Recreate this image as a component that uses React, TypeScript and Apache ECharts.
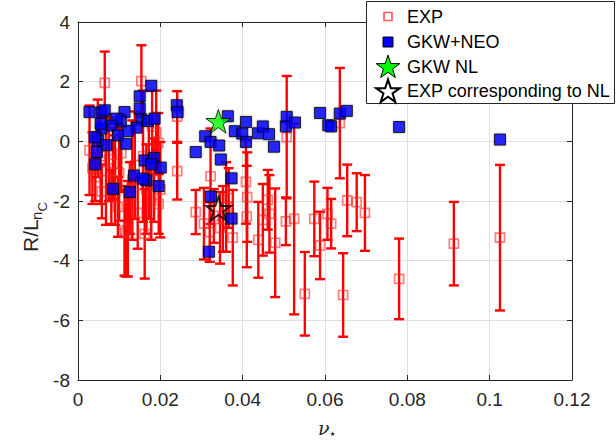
import React, { useEffect, useRef } from "react";
import * as echarts from "echarts";

// ---- data ----
const expNu = [
  0.0028, 0.0035, 0.0042, 0.0048, 0.0055, 0.0058, 0.0065, 0.0068, 0.0075, 0.0081,
  0.0085, 0.009, 0.0097, 0.01, 0.0105, 0.0113, 0.0116, 0.0121, 0.0126, 0.0132,
  0.0138, 0.0145, 0.0154, 0.0158, 0.0162, 0.0166, 0.0172, 0.0178, 0.0185, 0.018,
  0.019, 0.0195, 0.0196, 0.02, 0.0241, 0.0241, 0.0286, 0.0306, 0.0322, 0.032,
  0.033, 0.0345, 0.0352, 0.036, 0.0366, 0.0376, 0.0408, 0.0411, 0.041, 0.0438,
  0.0449, 0.0461, 0.0465, 0.0479, 0.0505, 0.0507, 0.0525, 0.0551, 0.0574, 0.0588,
  0.0606, 0.0615, 0.0636, 0.0644, 0.0654, 0.0677, 0.0697, 0.078, 0.0913, 0.1025,
];
const expR = [
  -0.3, -0.9, -1.2, 0.1, -0.5, -1.68, 1.96, -1.0, -0.6, -1.87,
  -0.75, -1.3, -2.2, -1.06, -0.4, -3.0, -3.08, -2.93, -1.9, -1.3,
  -0.8, -2.4, 2.02, -0.5, -3.1, -1.6, -1.0, -2.0, -1.3, 0.5,
  0.3, -0.05, -2.1, -1.62, 0.83, -1.0, -2.37, -2.76, -1.17, -3.04,
  -2.5, -2.9, -2.6, -2.2, -1.9, -3.23, -1.36, -1.87, -2.52, -3.3,
  -2.63, -1.96, -2.43, -3.4, -2.68, 0.14, -2.6, -5.11, -2.6, -3.49,
  -2.43, -2.76, 0.61, -5.15, -1.98, -2.04, -2.4, -4.61, -3.43, -3.23,
];
const expErr = [
  1.5, 1.2, 0.8, 1.3, 1.6, 0.9, 1.05, 1.8, 1.4, 0.9,
  1.2, 1.5, 1.0, 1.6, 1.3, 1.5, 1.45, 1.6, 1.2, 2.0,
  1.8, 1.2, 1.2, 2.2, 1.5, 1.5, 1.6, 1.3, 1.4, 1.2,
  1.4, 1.0, 1.0, 1.6, 0.85, 0.95, 0.74, 1.2, 1.6, 1.0,
  0.9, 1.2, 1.1, 1.5, 1.0, 1.6, 1.4, 1.5, 1.7, 1.27,
  1.2, 1.0, 1.3, 1.82, 0.8, 2.05, 3.2, 1.4, 1.25, 1.13,
  0.87, 0.83, 1.85, 1.4, 1.2, 0.97, 1.27, 1.35, 1.4, 2.44,
];
const gkwNu = [
  0.0028, 0.0057, 0.0065, 0.0113, 0.015, 0.0178, 0.015, 0.0154, 0.017, 0.0186,
  0.0142, 0.0121, 0.0104, 0.0093, 0.0081, 0.0057, 0.0055, 0.0097, 0.0116, 0.0049,
  0.0041, 0.0069, 0.0046, 0.0042, 0.0085, 0.0126, 0.0136, 0.0162, 0.0185, 0.0201,
  0.0166, 0.0158, 0.0196, 0.0178, 0.024, 0.0242, 0.0286, 0.0309, 0.0322, 0.0343,
  0.0347, 0.0373, 0.0323, 0.0373, 0.0318, 0.0364, 0.0381, 0.0399, 0.0408, 0.0408,
  0.0437, 0.0449, 0.0464, 0.0476, 0.0507, 0.0505, 0.0527, 0.0588, 0.0608, 0.0615,
  0.0636, 0.0653, 0.078, 0.1025,
];
const gkwR = [
  0.98, 0.97, 1.04, 0.98, 1.51, 1.86, 1.1, 0.73, 0.68, 0.76,
  0.46, 0.35, 0.67, 0.76, 0.53, 0.43, 0.59, 0.2, -0.08, 0.03,
  0.14, -0.13, -0.36, -0.77, -1.59, -1.7, -1.15, -0.64, -0.56, -0.88,
  -1.31, -1.25, -1.5, -0.77, 1.21, 0.98, -0.36, 0.17, -0.02, -0.14,
  -0.61, -1.24, -1.85, -2.59, -3.7, 0.84, 0.34, 0.26, 0.65, -0.02,
  0.27, 0.5, 0.24, -0.18, 0.82, 0.5, 0.63, 0.95, 0.54, 0.5,
  0.93, 1.02, 0.48, 0.06,
];
const nlNu = [0.0341];
const nlR = [0.67];
const expNlNu = [0.0341];
const expNlR = [-2.26];
const legendNames = ["EXP", "GKW+NEO", "GKW NL", "EXP corresponding to NL"];

const FONT = "'Liberation Sans', Arial, Helvetica, sans-serif";
const INK = "#262626";
const EXP_EDGE = "rgba(255,30,30,0.72)";

function starPts(cx: number, cy: number, R: number): number[][] {
  const r = R * 0.382;
  const pts: number[][] = [];
  for (let k = 0; k < 10; k++) {
    const a = -Math.PI / 2 + (k * Math.PI) / 5;
    const rad = k % 2 ? r : R;
    pts.push([cx + rad * Math.cos(a), cy + rad * Math.sin(a)]);
  }
  return pts;
}
const starPath =
  "path://" +
  starPts(50, 50, 50)
    .map((p, i) => (i ? "L" : "M") + p[0].toFixed(2) + " " + p[1].toFixed(2))
    .join(" ") +
  " Z";

export default function App() {
  const ref = useRef<HTMLDivElement>(null);
  useEffect(() => {
    const chart = echarts.init(ref.current!, null, { renderer: "svg" });
    const axisCommonX = {
      type: "value" as const,
      min: 0,
      max: 0.12,
      interval: 0.02,
    };
    const axisCommonY = {
      type: "value" as const,
      min: -8,
      max: 4,
      interval: 2,
    };
    const lineStyle = { color: INK, width: 1 };
    const option: any = {
      animation: false,
      backgroundColor: "#ffffff",
      grid: { left: 78, right: 44, top: 22, bottom: 62, containLabel: false },
      xAxis: [
        {
          ...axisCommonX,
          position: "bottom",
          axisLine: { show: true, onZero: false, lineStyle },
          axisTick: { show: true, inside: true, length: 5, lineStyle },
          axisLabel: { color: INK, fontSize: 19, fontFamily: FONT, margin: 10 },
          splitLine: { show: true, lineStyle: { color: "#dfdfdf", width: 1 } },
        },
        {
          ...axisCommonX,
          position: "top",
          axisLine: { show: true, onZero: false, lineStyle },
          axisTick: { show: true, inside: true, length: 5, lineStyle },
          axisLabel: { show: false },
          splitLine: { show: false },
        },
      ],
      yAxis: [
        {
          ...axisCommonY,
          position: "left",
          axisLine: { show: true, onZero: false, lineStyle },
          axisTick: { show: true, inside: true, length: 5, lineStyle },
          axisLabel: { color: INK, fontSize: 19, fontFamily: FONT, margin: 8 },
          splitLine: { show: true, lineStyle: { color: "#dfdfdf", width: 1 } },
        },
        {
          ...axisCommonY,
          position: "right",
          axisLine: { show: true, onZero: false, lineStyle },
          axisTick: { show: true, inside: true, length: 5, lineStyle },
          axisLabel: { show: false },
          splitLine: { show: false },
        },
      ],
      series: [
        {
          type: "custom",
          name: "EXP error",
          xAxisIndex: 0,
          yAxisIndex: 0,
          silent: true,
          z: 2,
          encode: { x: 0, y: 1 },
          data: expNu.map((v, i) => [v, expR[i], expErr[i]]),
          renderItem: (params: any, api: any) => {
            const x = api.value(0);
            const y = api.value(1);
            const e = api.value(2);
            const top = api.coord([x, y + e]);
            const bot = api.coord([x, y - e]);
            const hw = 5;
            const st = { stroke: "#ff0000", lineWidth: 2.4 };
            return {
              type: "group",
              children: [
                { type: "line", shape: { x1: top[0], y1: top[1], x2: bot[0], y2: bot[1] }, style: st },
                { type: "line", shape: { x1: top[0] - hw, y1: top[1], x2: top[0] + hw, y2: top[1] }, style: st },
                { type: "line", shape: { x1: bot[0] - hw, y1: bot[1], x2: bot[0] + hw, y2: bot[1] }, style: st },
              ],
            };
          },
        },
        {
          type: "scatter",
          name: legendNames[0],
          z: 3,
          symbol: "rect",
          symbolSize: 9,
          itemStyle: {
            color: "rgba(255,255,255,0)",
            borderColor: EXP_EDGE,
            borderWidth: 1.7,
          },
          data: expNu.map((v, i) => [v, expR[i]]),
        },
        {
          type: "scatter",
          name: legendNames[1],
          z: 4,
          symbol: "rect",
          symbolSize: 11,
          itemStyle: {
            color: "#0000ff",
            borderColor: "#000000",
            borderWidth: 1,
            shadowColor: "rgba(0,0,0,0.35)",
            shadowBlur: 2,
          },
          data: gkwNu.map((v, i) => [v, gkwR[i]]),
        },
        {
          type: "scatter",
          name: legendNames[2],
          z: 5,
          symbol: starPath,
          symbolKeepAspect: true,
          symbolSize: 25,
          itemStyle: { color: "#00ff00", borderColor: "#000000", borderWidth: 1 },
          data: nlNu.map((v, i) => [v, nlR[i]]),
        },
        {
          type: "scatter",
          name: legendNames[3],
          z: 5,
          symbol: starPath,
          symbolKeepAspect: true,
          symbolSize: 25,
          itemStyle: { color: "rgba(255,255,255,0)", borderColor: "#000000", borderWidth: 2 },
          data: expNlNu.map((v, i) => [v, expNlR[i]]),
        },
      ],
      graphic: [
        // legend box
        {
          type: "rect",
          z: 100,
          shape: { x: 366.5, y: 1.5, width: 248, height: 102 },
          style: { fill: "#ffffff", stroke: INK, lineWidth: 1 },
        },
        {
          type: "rect",
          z: 101,
          shape: { x: 384, y: 12.5, width: 8, height: 8 },
          style: { fill: "none", stroke: EXP_EDGE, lineWidth: 1.7 },
        },
        {
          type: "rect",
          z: 101,
          shape: { x: 383, y: 37, width: 10, height: 10 },
          style: { fill: "#0000ff", stroke: "#000000", lineWidth: 1 },
        },
        {
          type: "polygon",
          z: 101,
          shape: { points: starPts(388, 67.5, 12.5) },
          style: { fill: "#00ff00", stroke: "#000000", lineWidth: 1 },
        },
        {
          type: "polygon",
          z: 101,
          shape: { points: starPts(388, 92, 12.5) },
          style: { fill: "none", stroke: "#000000", lineWidth: 2 },
        },
        ...legendNames.map((n, i) => ({
          type: "text",
          z: 101,
          x: 407,
          y: [17, 42, 67, 91][i],
          style: {
            text: n,
            fill: "#000000",
            font: `18px ${FONT}`,
            textAlign: "left",
            textVerticalAlign: "middle",
          },
        })),
        // y-axis title R/L_{n_C}
        {
          type: "group",
          x: 30,
          y: 252,
          rotation: Math.PI / 2,
          children: [
            {
              type: "text",
              x: 0,
              y: 0,
              style: { text: "R/L", fill: INK, font: `21px ${FONT}`, textAlign: "left", textVerticalAlign: "middle" },
            },
            {
              type: "text",
              x: 32,
              y: 6,
              style: { text: "n", fill: INK, font: `15px ${FONT}`, textAlign: "left", textVerticalAlign: "middle" },
            },
            {
              type: "text",
              x: 40.5,
              y: 12,
              style: { text: "C", fill: INK, font: `13px ${FONT}`, textAlign: "left", textVerticalAlign: "middle" },
            },
          ],
        },
        // x-axis title nu_*
        {
          type: "text",
          x: 318,
          y: 428,
          style: {
            text: "ν",
            fill: INK,
            font: `italic 19px 'DejaVu Serif', serif`,
            textAlign: "left",
            textVerticalAlign: "middle",
          },
        },
        {
          type: "text",
          x: 328.5,
          y: 433,
          style: {
            text: "⋆",
            fill: INK,
            font: `13px 'DejaVu Sans', sans-serif`,
            textAlign: "left",
            textVerticalAlign: "middle",
          },
        },
      ],
    };
    chart.setOption(option);
    return () => chart.dispose();
  }, []);
  return (
    <div
      ref={ref}
      style={{ width: 616, height: 442, position: "absolute", left: 0, top: 0 }}
    />
  );
}
